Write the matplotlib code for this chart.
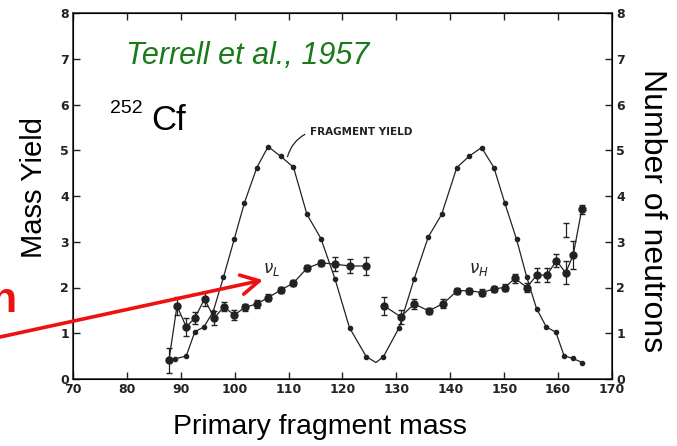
import matplotlib
matplotlib.use('Agg')
import matplotlib.pyplot as plt

plt.rcParams['font.family'] = ['Liberation Sans', 'DejaVu Sans']

# fragment yield curve (mass, yield)
yield_mass = [88.9, 91.0, 92.6, 94.3, 96.0, 97.9, 99.9, 101.8, 104.1, 106.2, 108.5,
              110.9, 113.4, 116.0, 118.6, 121.3, 124.4, 126.2, 127.6, 130.5, 133.3,
              135.9, 138.4, 141.2, 143.5, 145.8, 148.1, 150.1, 152.3, 154.2, 156.0,
              157.8, 159.6, 161.1, 162.7, 164.5]
yield_val = [0.44, 0.50, 1.03, 1.14, 1.47, 2.22, 3.05, 3.85, 4.62, 5.08, 4.87,
             4.63, 3.60, 3.07, 2.19, 1.12, 0.49, 0.36, 0.49, 1.12, 2.19,
             3.10, 3.60, 4.62, 4.87, 5.06, 4.62, 3.85, 3.05, 2.22, 1.54,
             1.14, 1.02, 0.51, 0.45, 0.36]

# light fragment neutrons
nuL_mass = [87.8, 89.3, 91.0, 92.6, 94.4, 96.2, 98.0, 99.9, 102.0, 104.1, 106.2,
            108.5, 110.9, 113.4, 116.0, 118.6, 121.4, 124.4]
nuL_val = [0.41, 1.60, 1.14, 1.33, 1.75, 1.33, 1.58, 1.40, 1.57, 1.64, 1.78,
           1.94, 2.10, 2.42, 2.54, 2.51, 2.47, 2.47]
nuL_err = [0.27, 0.20, 0.20, 0.13, 0.15, 0.15, 0.10, 0.10, 0.08, 0.08, 0.08,
           0.07, 0.07, 0.07, 0.07, 0.15, 0.15, 0.20]

# heavy fragment neutrons
nuH_mass = [127.7, 130.8, 133.3, 136.0, 138.7, 141.3, 143.5, 145.9, 148.1, 150.1,
            152.0, 154.2, 156.0, 157.9, 159.7, 161.4, 162.8, 164.4]
nuH_val = [1.60, 1.36, 1.64, 1.49, 1.65, 1.93, 1.93, 1.89, 1.97, 2.00,
           2.20, 2.00, 2.27, 2.27, 2.59, 2.32, 2.71, 3.71]
nuH_err = [0.20, 0.15, 0.10, 0.07, 0.10, 0.07, 0.07, 0.07, 0.07, 0.07,
           0.10, 0.10, 0.15, 0.15, 0.15, 0.25, 0.30, 0.10]

# stray error bar without point
extra_mass = [161.4]
extra_val = [3.26]
extra_err = [0.15]

W, H = 677, 446
fig = plt.figure(figsize=(W / 100, H / 100), dpi=100)
ax = fig.add_axes([73 / W, 1 - 379 / H, 539 / W, 366 / H])

ink = '#222222'
ax.plot(yield_mass, yield_val, '-', color=ink, lw=0.9, marker='o', ms=3,
        markevery=[i for i in range(len(yield_mass)) if i != 17])
ax.errorbar(nuL_mass, nuL_val, yerr=nuL_err, fmt='-o', color=ink, lw=0.9, ms=5,
            capsize=2.5, elinewidth=0.9)
ax.errorbar(nuH_mass, nuH_val, yerr=nuH_err, fmt='-o', color=ink, lw=0.9, ms=5,
            capsize=2.5, elinewidth=0.9)
ax.errorbar(extra_mass, extra_val, yerr=extra_err, fmt='none', color=ink,
            capsize=2.5, elinewidth=0.9)

ax.set_xlim(70, 170)
ax.set_ylim(0, 8)
ax.set_xticks(range(70, 171, 10))
ax.set_yticks(range(0, 9))
ax.tick_params(direction='in', length=5, width=1.0, colors=ink, labelsize=9,
               top=True, pad=3)
for lab in ax.get_xticklabels() + ax.get_yticklabels():
    lab.set_fontweight('bold')
    lab.set_family('DejaVu Sans')
for s in ax.spines.values():
    s.set_color('#333333')
    s.set_linewidth(1.2)

ax2 = ax.twinx()
ax2.set_ylim(0, 8)
ax2.set_yticks(range(0, 9))
ax2.tick_params(direction='in', length=5, width=1.0, colors=ink, labelsize=9, pad=3)
for lab in ax2.get_yticklabels():
    lab.set_fontweight('bold')
    lab.set_family('DejaVu Sans')

ax.set_xlabel('Primary fragment mass', fontsize=20.5, va='center')
ax.xaxis.set_label_coords(0.458, -(427 - 379) / 366)
ax.set_ylabel('Mass Yield', fontsize=21, va='center')
ax.yaxis.set_label_coords(-(73 - 34) / 539, 0.523)
ax2.set_ylabel('Number of neutrons', fontsize=23, rotation=270, va='center')
ax2.yaxis.set_label_coords((652 - 73) / 539, 0.459)

ax.text(0.325, 0.883, 'Terrell et al., 1957', transform=ax.transAxes, color='#1a7a1a',
        fontsize=22, style='italic', ha='center', va='center')
fig.text(110 / W, 1 - 113 / H, '252', fontsize=14, ha='left', va='baseline')
fig.text(151 / W, 1 - 130 / H, 'Cf', fontsize=25, ha='left', va='baseline')

ax.annotate('FRAGMENT YIELD', xy=(109.8, 4.86), xytext=(114.0, 5.4),
            fontsize=7.5, fontweight='bold', family='DejaVu Sans', color=ink,
            ha='left', va='center',
            arrowprops=dict(arrowstyle='-', color=ink, lw=0.9, relpos=(0, 0.5),
                            connectionstyle='arc3,rad=0.25', shrinkA=2, shrinkB=0))
ax.text(105.3, 2.4, r'$\nu_L$', fontsize=12, color=ink, ha='left', va='center')
ax.text(143.5, 2.4, r'$\nu_H$', fontsize=12, color=ink, ha='left', va='center')

# red annotation arrow coming from off-figure
fig.text(16 / W, 1 - 312 / H, 'n', color='#ee1111', fontsize=31, fontweight='bold',
         ha='right', va='baseline')
fig.patches.append(matplotlib.patches.FancyArrowPatch(
    (0, 1 - 337 / H), (263 / W, 1 - 280 / H), transform=fig.transFigure,
    arrowstyle='->,head_length=13,head_width=7', color='#ee1111', lw=2.6,
    mutation_scale=1, shrinkA=0, shrinkB=0))

fig.savefig('out.png', dpi=100)
